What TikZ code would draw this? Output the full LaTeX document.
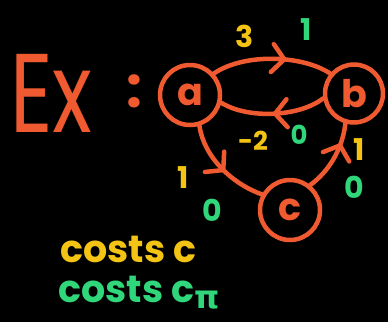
\documentclass[tikz,border=0pt]{standalone}
\usepackage{fontspec}
\setmainfont{Poppins}
\newfontfamily\greekfont{DejaVu Sans}
\usetikzlibrary{arrows.meta,decorations.markings}
\definecolor{ored}{HTML}{F05A30}
\definecolor{yel}{HTML}{F4C414}
\definecolor{grn}{HTML}{30D67A}
\tikzset{
  state/.style={circle, draw=ored, line width=4.5pt, minimum size=60pt, inner sep=0pt,
    text=ored, font=\bfseries\fontsize{38}{38}\selectfont},
  edge/.style={draw=ored, line width=4.5pt, line cap=round, postaction={decorate},
    decoration={markings, mark=at position #1 with
      {\arrow{Straight Barb[length=12pt,width=28pt,round,line width=4.5pt]}}}},
  ylab/.style={text=yel, font=\bfseries\fontsize{30}{30}\selectfont, inner sep=0pt},
  glab/.style={text=grn, font=\bfseries\fontsize{30}{30}\selectfont, inner sep=0pt},
}
\begin{document}
\begin{tikzpicture}[x=1pt,y=-1pt]
\fill[black] (0,0) rectangle (388,322);
\useasboundingbox (0,0) rectangle (388,322);
% title
\node[text=ored, font=\fontsize{112}{112}\selectfont, xscale=0.74, inner sep=0pt, anchor=base west] (ex) at (10,132) {Ex};
\node[text=ored, font=\bfseries\fontsize{56}{56}\selectfont, inner sep=0pt] (colon) at (134,91) {:};
% states
\node[state] (a) at (190,95) {a};
\node[state, minimum size=58pt] (b) at (354,93.5) {b};
\node[state] (c) at (290,210) {c};
% edges
\draw[edge=0.62] (a.42) .. controls +(31,-21) and +(-27,-18) .. (b.140);
\draw[edge=0.5] (b.189) .. controls +(-23,18) and +(28,17) .. (a.-14);
\draw[edge=0.55] (a.-73) .. controls +(5,33) and +(-28,-10) .. (c.151);
\draw[edge=0.72] (c.51) .. controls +(18,-13) and +(-3,26) .. (b.-106);
% labels
\node[ylab] (l3) at (245,36) {3};
\node[glab] (l1) at (306,30) {1};
\node[ylab, font=\bfseries\fontsize{26}{26}\selectfont] (lm2) at (253,141) {-2};
\node[glab, font=\bfseries\fontsize{26}{26}\selectfont] (l0a) at (299,135) {0};
\node[ylab] (l1b) at (359,150) {1};
\node[glab] (l0b) at (354,187) {0};
\node[ylab] (l1c) at (183,178) {1};
\node[glab] (l0c) at (212,210) {0};
% legend
\node[text=yel, font=\bfseries\fontsize{38}{38}\selectfont, inner sep=0pt, anchor=base west] (cc) at (60,262) {costs c};
\node[text=grn, font=\bfseries\fontsize{38}{38}\selectfont, inner sep=0pt, anchor=base west] (cpi) at (58,302) {costs c\raisebox{-0.3ex}{\greekfont\bfseries\fontsize{32}{32}\selectfont π}};
\end{tikzpicture}
\end{document}
